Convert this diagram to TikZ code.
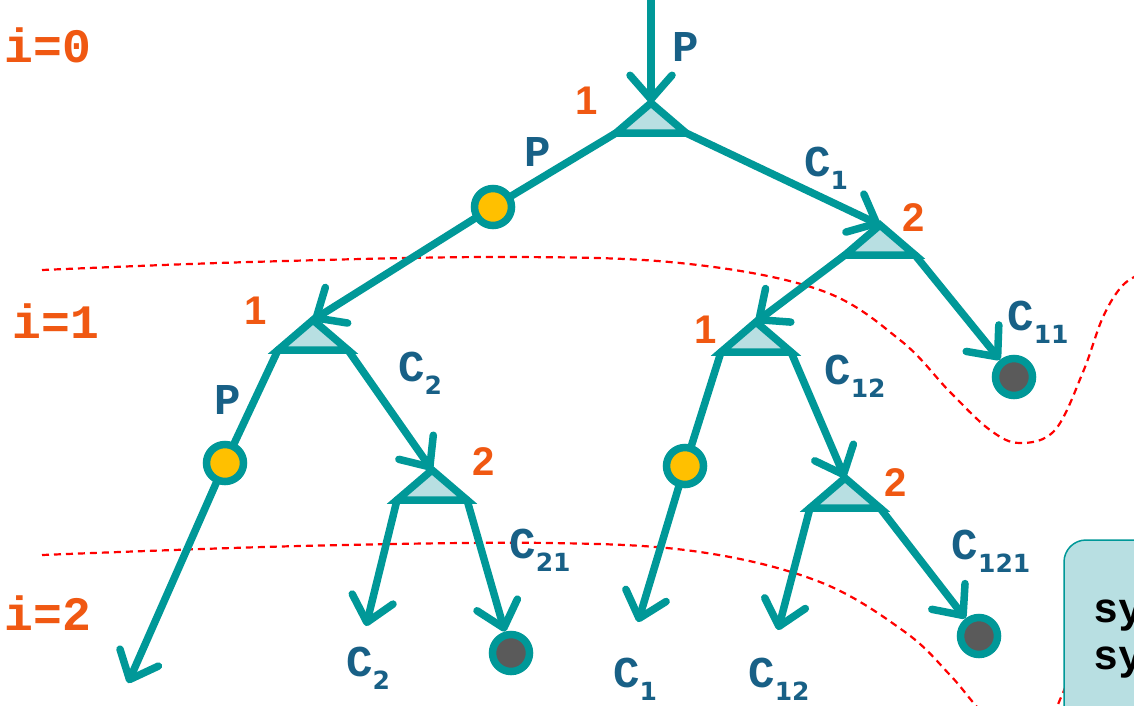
\documentclass[tikz,border=0pt]{standalone}
\usepackage{fontspec}
\usetikzlibrary{arrows.meta}
\newfontfamily\monofam{Liberation Mono}
\newfontfamily\sansfam{Liberation Sans}
\newfontfamily\dejafam{DejaVu Sans}
\definecolor{teal1}{RGB}{0,152,152}
\definecolor{trifill}{RGB}{184,223,226}
\definecolor{lblue}{RGB}{24,96,134}
\definecolor{orng}{RGB}{240,88,18}
\definecolor{yel}{RGB}{255,192,0}
\definecolor{gry}{RGB}{90,90,90}
\newcommand\subs[1]{\raisebox{-13pt}{\dejafam\bfseries\fontsize{25}{25}\selectfont #1}}
\newcommand\mktri[3]{%
  \coordinate (#1a) at (#2,#3);
  \coordinate (#1l) at ({#2-35},{#3+30});
  \coordinate (#1r) at ({#2+35},{#3+30});}
\begin{document}
\begin{tikzpicture}[x=1pt,y=-1pt,
  edge/.style={draw=teal1,line width=7.5pt,line cap=round,line join=round},
  arr/.style={edge,-{Straight Barb[length=24pt,width=42pt,round]}},
  tri/.style={draw=teal1,fill=trifill,line width=7.5pt,line join=miter},
  ycirc/.style={circle,draw=teal1,fill=yel,line width=7.5pt,minimum size=37pt,inner sep=0},
  gcirc/.style={circle,draw=teal1,fill=gry,line width=7.5pt,minimum size=37pt,inner sep=0},
  lbl/.style={text=lblue,font=\monofam\bfseries\fontsize{44}{44}\selectfont,inner sep=0},
  num/.style={text=orng,font=\sansfam\bfseries\fontsize{40}{40}\selectfont,inner sep=0},
  lvl/.style={text=orng,font=\monofam\bfseries\fontsize{48}{48}\selectfont,inner sep=0},
  reddash/.style={draw=red,line width=2.2pt,dash pattern=on 7pt off 5pt},
  boxtxt/.style={text=black,font=\monofam\bfseries\fontsize{42}{42}\selectfont,inner sep=0,anchor=base west}]
\useasboundingbox (0,0) rectangle (1134,705);
\clip (0,0) rectangle (1134,705);
\fill[white] (0,0) rectangle (1134,705);

% red dashed level curves
\draw[reddash] plot[smooth,tension=0.6] coordinates {(42,270) (250,262) (500,257) (680,263) (820,290) (900,340) (950,392) (990,430) (1020,443) (1055,430) (1083,372) (1103,317) (1123,285) (1145,272)};
\draw[reddash] plot[smooth,tension=0.6] coordinates {(42,555) (300,546) (550,543) (700,552) (820,582) (905,632) (950,675) (980,710) (1010,735) (1045,725) (1062,695) (1075,660)};

% triangle coordinates
\mktri{T1}{651}{103}
\mktri{T2}{880}{225}
\mktri{T3}{756}{322}
\mktri{T4}{845}{478}
\mktri{TA}{313}{320}
\mktri{TB}{432}{470}
\coordinate (s0) at (651,-5);
\coordinate (e1) at (128,683);
\coordinate (e2) at (366,626);
\coordinate (e3) at (638,622);
\coordinate (e4) at (778,630);

% circle positions
\path (493,207) coordinate (y1c) (225,463) coordinate (y2c) (685,466) coordinate (y3c);
\path (1014,377) coordinate (g1c) (511,653) coordinate (g2c) (979,636) coordinate (g3c);

% edges
\draw[arr] (s0) -- (T1a);
\draw[arr] (T1l) -- (y1c) -- (TAa);
\draw[arr] (T1r) -- (T2a);
\draw[arr] (T2l) -- (T3a);
\draw[arr] (TAl) -- (y2c) -- (e1);
\draw[arr] (TAr) -- (TBa);
\draw[arr] (TBl) -- (e2);
\draw[arr] (T3l) -- (y3c) -- (e3);
\draw[arr] (T3r) -- (T4a);
\draw[arr] (T4l) -- (e4);

% gray nodes and arrows into them
\node[gcirc] (g1) at (g1c) {};
\node[gcirc] (g2) at (g2c) {};
\node[gcirc] (g3) at (g3c) {};
\draw[arr] (T2r) -- (g1);
\draw[arr] (TBr) -- (g2);
\draw[arr] (T4r) -- (g3);

% triangles
\foreach \t in {T1,T2,T3,T4,TA,TB} \draw[tri] (\t a) -- (\t r) -- (\t l) -- cycle;

% yellow nodes
\node[ycirc] (y1) at (y1c) {};
\node[ycirc] (y2) at (y2c) {};
\node[ycirc] (y3) at (y3c) {};

% labels
\node[lbl] (lP0) at (686,47) {P};
\node[lbl] (lP1) at (538,152) {P};
\node[lbl] (lP2) at (228,400) {P};
\node[lbl] (lC1) at (826,168) {C\subs{1}};
\node[lbl] (lC11) at (1038,322) {C\subs{11}};
\node[lbl] (lC2) at (420,373) {C\subs{2}};
\node[lbl] (lC12) at (855,376) {C\subs{12}};
\node[lbl] (lC21) at (540,550) {C\subs{21}};
\node[lbl] (lC121) at (991,551) {C\subs{121}};
\node[lbl] (lC2b) at (368,668) {C\subs{2}};
\node[lbl] (lC1b) at (635,679) {C\subs{1}};
\node[lbl] (lC12b) at (779,679) {C\subs{12}};

\node[num] (n1) at (587,101) {1};
\node[num] (n2) at (914,218) {2};
\node[num] (n3) at (256,311) {1};
\node[num] (n4) at (484,462) {2};
\node[num] (n5) at (706,330) {1};
\node[num] (n6) at (896,483) {2};

\node[lvl] (i0) at (48,45) {i=0};
\node[lvl] (i1) at (56,321) {i=1};
\node[lvl] (i2) at (48,613) {i=2};

% box at bottom right
\draw[draw=teal1,fill=trifill,line width=1.5pt,rounded corners=22pt] (1064,540) rectangle (1190,760);
\node[boxtxt] (b1) at (1093,622) {sy};
\node[boxtxt] (b2) at (1093,669) {sy};
\end{tikzpicture}
\end{document}
